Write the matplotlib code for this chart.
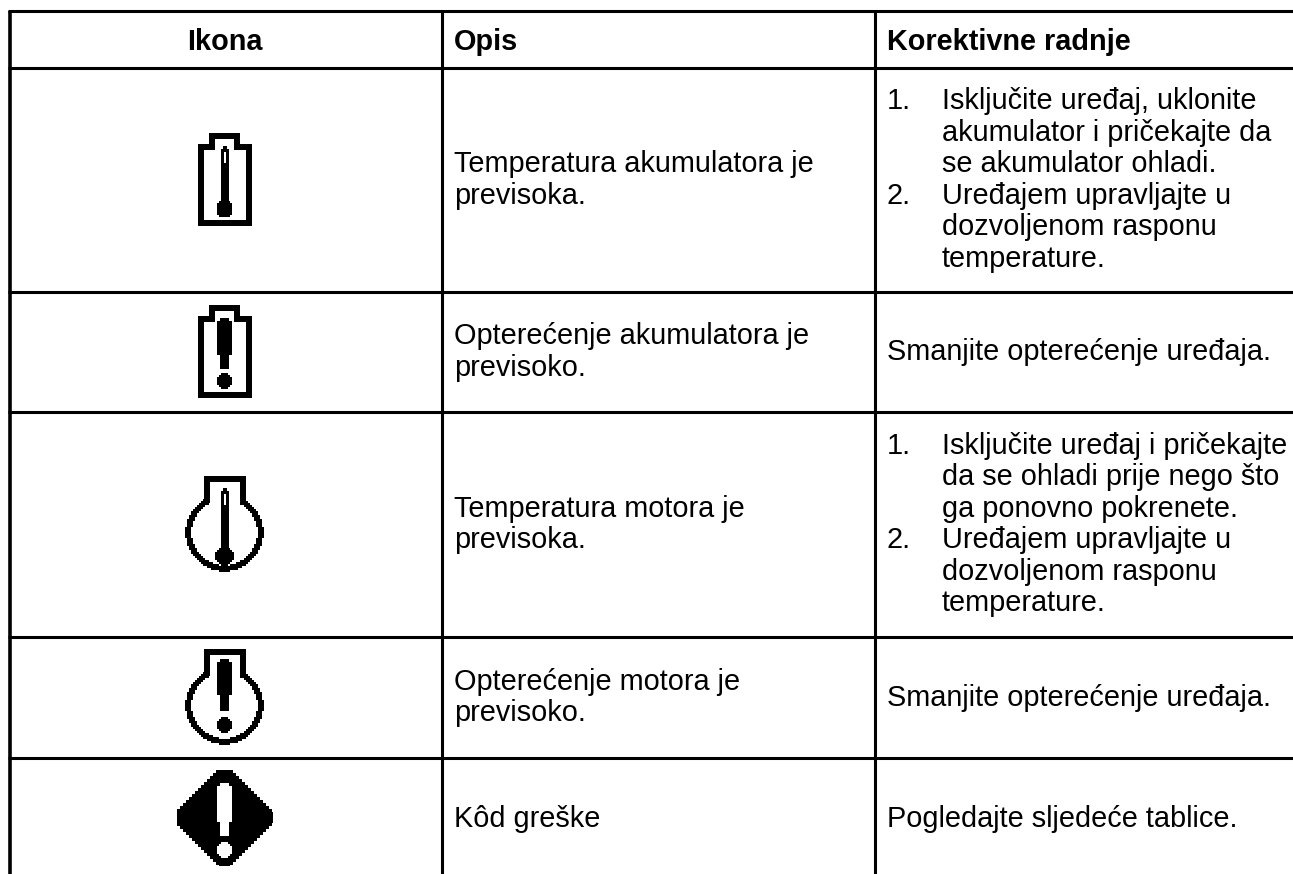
import numpy as np
from matplotlib import pyplot as plt

# table content
headers = ["Ikona", "Opis", "Korektivne radnje"]
descriptions = [
    ["Temperatura akumulatora je", "previsoka."],
    ["Opterećenje akumulatora je", "previsoko."],
    ["Temperatura motora je", "previsoka."],
    ["Opterećenje motora je", "previsoko."],
    ["Kôd greške"],
]
# each action is a list of (number, line) pairs
actions = [
    [("1.", "Isključite uređaj, uklonite"), ("", "akumulator i pričekajte da"),
     ("", "se akumulator ohladi."), ("2.", "Uređajem upravljajte u"),
     ("", "dozvoljenom rasponu"), ("", "temperature.")],
    [("", "Smanjite opterećenje uređaja.")],
    [("1.", "Isključite uređaj i pričekajte"), ("", "da se ohladi prije nego što"),
     ("", "ga ponovno pokrenete."), ("2.", "Uređajem upravljajte u"),
     ("", "dozvoljenom rasponu"), ("", "temperature.")],
    [("", "Smanjite opterećenje uređaja.")],
    [("", "Pogledajte sljedeće tablice.")],
]

# layout in pixels of the picture, the last row runs past the crop
W, H = 1293, 874
col_lines = [9.5, 441.5, 874.5]
row_lines = [10.5, 67.5, 291.5, 411.5, 636.5, 757.5, 879]
line_height = 31.5
font_size = 20.8

plt.rcParams['font.family'] = ['Liberation Sans', 'DejaVu Sans']
fig = plt.figure(figsize=(W / 100, H / 100), dpi=100)
ax = fig.add_axes([0, 0, 1, 1])


def grid(x0, x1, y0, y1):
    xs = np.arange(x0, x1) + 0.5
    ys = np.arange(y0, y1) + 0.5
    return np.meshgrid(xs, ys)


def block(a, size=3):
    # snap to coarse pixels so curves get the stair look of the icons
    return np.floor(a / size) * size + size / 2


def rect(X, Y, x0, x1, y0, y1):
    return (X >= x0) & (X < x1) & (Y >= y0) & (Y < y1)


def disc(X, Y, cx, cy, r):
    return block(np.abs(X - cx), 2) ** 2 + block(np.abs(Y - cy), 2) ** 2 <= r ** 2


def show(mask, x0, y0):
    h, w = mask.shape
    ax.imshow(mask, cmap="gray_r", vmin=0, vmax=1, interpolation="nearest",
              extent=(x0, x0 + w, y0 + h, y0), aspect="auto")


def thermometer(X, Y, slot_top, tip_y, shaft_end, bulb_y, bulb_r):
    m = rect(X, Y, 221, 229, tip_y + 3, shaft_end) | rect(X, Y, 223, 227, tip_y, tip_y + 3)
    m |= disc(X, Y, 224.5, bulb_y, bulb_r)
    return m & ~rect(X, Y, 224, 226, slot_top, slot_top + 11)


def battery_icon(top, inner):
    X, Y = grid(198, 252, top, top + 93)
    outer = rect(X, Y, 198, 252, top + 11, top + 93) | rect(X, Y, 209, 240, top, top + 11)
    hole = rect(X, Y, 204, 246, top + 17, top + 87) | rect(X, Y, 215, 234, top + 6, top + 17)
    show((outer & ~hole) | inner(X, Y, top), 198, top)


def motor_icon(top, inner):
    X, Y = grid(185, 265, top, top + 97)
    cy = top + 56.5
    outer = disc(X, Y, 224.5, cy, 39.5) | rect(X, Y, 204, 246, top, top + 30)
    hole = disc(X, Y, 224.5, cy, 33.5) | rect(X, Y, 210, 240, top + 6, top + 30)
    show((outer & ~hole) | inner(X, Y, top), 185, top)


def bang(X, Y, top, bottom, narrow_from, dot_y):
    m = rect(X, Y, 217, 232, top + 3, narrow_from) | rect(X, Y, 220, 229, top, bottom)
    return m | disc(X, Y, 224.5, dot_y, 8.5)


def warning_icon(top):
    X, Y = grid(177, 273, top, top + 96)
    dx = block(np.abs(X - 224.5), 3)
    dy = block(np.abs(Y - (top + 47.5)), 3)
    body = dx + dy <= 54
    show(body & ~bang(X, Y, top + 13, top + 66, top + 52, top + 80), 177, top)


battery_icon(133, lambda X, Y, top: thermometer(X, Y, top + 19, top + 13, top + 72, top + 76, 9))
battery_icon(305, lambda X, Y, top: bang(X, Y, top + 13, top + 64, top + 50, top + 76))
motor_icon(476, lambda X, Y, top: thermometer(X, Y, top + 18, top + 12, top + 75, top + 80, 9.5))
motor_icon(649, lambda X, Y, top: bang(X, Y, top + 10, top + 62, top + 46, top + 76))
warning_icon(770)

# grid lines, no bottom line because the table runs on past the crop
for y in row_lines[:-1]:
    ax.plot([col_lines[0] - 1.5, W], [y, y], color="black", lw=2.2, solid_capstyle="butt")
for x in col_lines:
    ax.plot([x, x], [row_lines[0], H], color="black", lw=2.6 if x == col_lines[0] else 2.2,
            solid_capstyle="butt")

# header row
ax.text(224.5, 50, headers[0], ha="center", va="baseline", fontsize=font_size, fontweight="bold")
ax.text(454, 50, headers[1], ha="left", va="baseline", fontsize=font_size, fontweight="bold")
ax.text(887, 50, headers[2], ha="left", va="baseline", fontsize=font_size, fontweight="bold")

# body rows, text centred on the row height
for i in range(len(descriptions)):
    mid = (row_lines[i + 1] + row_lines[i + 2]) / 2
    lines = descriptions[i]
    start = mid - (len(lines) - 1) * line_height / 2 + 8.5
    for j, line in enumerate(lines):
        ax.text(454, start + j * line_height, line, va="baseline", fontsize=font_size)
    lines = actions[i]
    start = mid - (len(lines) - 1) * line_height / 2 + 8.5
    for j, (num, line) in enumerate(lines):
        if num:
            ax.text(887, start + j * line_height, num, va="baseline", fontsize=font_size)
        left = 942 if len(lines) > 1 else 887
        ax.text(left, start + j * line_height, line, va="baseline", fontsize=font_size)

ax.set_xlim(0, W)
ax.set_ylim(H, 0)
ax.axis("off")
fig.savefig("out.png", dpi=100, facecolor="white")
